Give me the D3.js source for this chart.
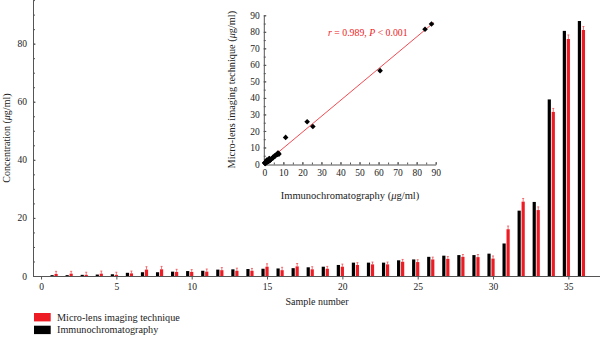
<!DOCTYPE html>
<html>
<head>
<meta charset="utf-8">
<script src="https://cdn.jsdelivr.net/npm/d3@7"></script>
<style>
  html, body { margin: 0; padding: 0; background: #fff; }
  svg { display: block; font-family: "Liberation Serif", "DejaVu Serif", serif; }
  .axis path, .axis line { stroke: #555; }
  .axis text { fill: #222; font-size: 9.5px; font-family: "Liberation Serif", serif; }
</style>
</head>
<body>
<div id="chart"></div>
<script>
// ------------------------------------------------------------------ DATA
const sampleNumbers = [1, 2, 3, 4, 5, 6, 7, 8, 9, 10, 11, 12, 13, 14, 15, 16, 17, 18,
  19, 20, 21, 22, 23, 24, 25, 26, 27, 28, 29, 30, 31, 32, 33, 34, 35, 36];

// Immunochromatography (black)
const immunoValues = [0.3, 0.3, 0.4, 0.5, 0.6, 1.1, 1.3, 1.3, 1.5, 1.7, 1.8, 2.2, 2.3, 2.4,
  2.5, 2.6, 2.7, 3.0, 3.2, 3.8, 4.6, 4.6, 4.6, 5.4, 5.7, 6.6, 7.0, 7.2, 7.2, 7.7,
  11.2, 22.5, 25.5, 60.8, 84.4, 87.8];

// Micro-lens imaging technique (red)
const microValues = [0.7, 0.8, 0.4, 0.8, 0.4, 0.9, 2.2, 2.3, 1.4, 1.4, 1.5, 2.0, 1.8, 1.8,
  3.2, 2.0, 3.3, 2.3, 2.5, 3.2, 3.8, 4.0, 4.0, 4.9, 4.8, 5.7, 5.9, 6.6, 6.5, 6.0,
  16.1, 25.6, 22.7, 56.5, 81.6, 84.7];

const microErrors = [0.9, 0.8, 0.9, 0.9, 0.9, 0.8, 1.0, 1.0, 0.9, 0.8, 0.9, 0.9, 0.9, 0.8,
  1.0, 1.0, 1.0, 0.9, 0.8, 0.9, 0.8, 0.8, 0.8, 0.8, 0.8, 0.8, 0.8, 0.8, 0.9, 0.9,
  1.1, 1.1, 1.1, 1.2, 1.4, 1.2];

const mainXTicks = [0, 5, 10, 15, 20, 25, 30, 35];
const mainYTicks = [0, 20, 40, 60, 80];
const insetTicks = [0, 10, 20, 30, 40, 50, 60, 70, 80, 90];
const seriesNames = ['Micro-lens imaging technique', 'Immunochromatography'];
const corrText = { r: '0.989', p: '0.001' };

const RED = '#ed1c24';
const BLACK = '#000';

// ------------------------------------------------------------------ SVG
const width = 600, height = 337;
const svg = d3.select('#chart').append('svg')
  .attr('width', width)
  .attr('height', height);

// ------------------------------------------------------------------ MAIN SCALES
const x = d3.scaleLinear().domain([-0.5, 37.1]).range([33.5, 600]);
const y = d3.scaleLinear().domain([0, 95]).range([276, 0.1]);

const rows = sampleNumbers.map((s, i) => ({
  s, immuno: immunoValues[i], micro: microValues[i], err: microErrors[i]
}));

// ------------------------------------------------------------------ MAIN AXES
svg.append('g')
  .attr('class', 'axis')
  .attr('transform', `translate(${x.range()[0] - 0.5},0)`)
  .call(d3.axisLeft(y).tickValues(d3.range(0, 96, 5)).tickSize(-2).tickSizeOuter(0).tickFormat(''));

svg.append('g')
  .attr('class', 'axis')
  .attr('transform', `translate(${x.range()[0] - 0.5},0)`)
  .call(d3.axisLeft(y).tickValues(mainYTicks).tickSize(-2.5).tickSizeOuter(0).tickPadding(6))
  .call(g => g.select('.domain').remove());

svg.append('g')
  .attr('class', 'axis')
  .attr('transform', `translate(0,${y(0)})`)
  .call(d3.axisBottom(x).tickValues(mainXTicks).tickSize(3.5).tickSizeOuter(0).tickPadding(4));

// ------------------------------------------------------------------ BARS
const barW = 3.2;
svg.append('g')
  .selectAll('rect')
  .data(rows)
  .join('rect')
  .attr('x', d => x(d.s) - 4 - barW / 2)
  .attr('y', d => y(d.immuno))
  .attr('width', barW)
  .attr('height', d => y(0) - y(d.immuno))
  .attr('fill', BLACK);

svg.append('g')
  .selectAll('rect')
  .data(rows)
  .join('rect')
  .attr('x', d => x(d.s) - barW / 2)
  .attr('y', d => y(d.micro))
  .attr('width', barW)
  .attr('height', d => y(0) - y(d.micro))
  .attr('fill', RED);

// error bars (red)
const err = svg.append('g')
  .attr('stroke', RED)
  .attr('stroke-width', 0.7)
  .attr('opacity', 0.85);
err.selectAll('line.v')
  .data(rows)
  .join('line')
  .attr('class', 'v')
  .attr('x1', d => x(d.s)).attr('x2', d => x(d.s))
  .attr('y1', d => y(d.micro)).attr('y2', d => y(d.micro + d.err));
err.selectAll('line.c')
  .data(rows)
  .join('line')
  .attr('class', 'c')
  .attr('x1', d => x(d.s) - 1).attr('x2', d => x(d.s) + 1)
  .attr('y1', d => y(d.micro + d.err)).attr('y2', d => y(d.micro + d.err));

// ------------------------------------------------------------------ MAIN TITLES
svg.append('text')
  .attr('transform', `translate(10,${y(47.5)}) rotate(-90)`)
  .attr('text-anchor', 'middle')
  .attr('font-size', 10)
  .attr('fill', '#222')
  .call(t => {
    t.append('tspan').text('Concentration (');
    t.append('tspan').attr('font-style', 'italic').text('\u03bc');
    t.append('tspan').text('g/ml)');
  });

svg.append('text')
  .attr('x', 317).attr('y', 305)
  .attr('text-anchor', 'middle')
  .attr('font-size', 10)
  .attr('fill', '#222')
  .text('Sample number');

// ------------------------------------------------------------------ LEGEND
const legend = svg.append('g').attr('transform', 'translate(34,313)');
[RED, BLACK].forEach((c, i) => {
  legend.append('rect')
    .attr('x', 0).attr('y', i * 12.7)
    .attr('width', 16.7).attr('height', 8.4)
    .attr('fill', c);
  legend.append('text')
    .attr('x', 23).attr('y', i * 12.7 + 7.6)
    .attr('font-size', 10.2)
    .attr('fill', '#222')
    .text(seriesNames[i]);
});

// ------------------------------------------------------------------ INSET SCATTER
const xi = d3.scaleLinear().domain([0, 90]).range([264.3, 435.7]);
const yi = d3.scaleLinear().domain([0, 90]).range([164, 15.3]);

const inset = svg.append('g');

inset.append('g')
  .attr('class', 'axis')
  .attr('transform', `translate(${xi(0) - 0.5},0)`)
  .call(d3.axisLeft(yi).tickValues(d3.range(0, 91, 5)).tickSize(-2).tickSizeOuter(0).tickFormat(''));
inset.append('g')
  .attr('class', 'axis')
  .attr('transform', `translate(${xi(0) - 0.5},0)`)
  .call(d3.axisLeft(yi).tickValues(insetTicks).tickSize(-2.5).tickSizeOuter(0).tickPadding(4))
  .call(g => g.select('.domain').remove());

inset.append('g')
  .attr('class', 'axis')
  .attr('transform', `translate(0,${yi(0) + 0.5})`)
  .call(d3.axisBottom(xi).tickValues(d3.range(0, 91, 5)).tickSize(-2).tickSizeOuter(0).tickFormat(''));
inset.append('g')
  .attr('class', 'axis')
  .attr('transform', `translate(0,${yi(0) + 0.5})`)
  .call(d3.axisBottom(xi).tickValues(insetTicks).tickSize(-2.5).tickSizeOuter(0).tickPadding(5))
  .call(g => g.select('.domain').remove());

// least-squares fit of micro-lens vs immunochromatography
const mx = d3.mean(immunoValues), my = d3.mean(microValues);
const slope = d3.sum(immunoValues, (v, i) => (v - mx) * (microValues[i] - my)) /
              d3.sum(immunoValues, v => (v - mx) * (v - mx));
const intercept = my - slope * mx;

inset.append('line')
  .attr('x1', xi(0)).attr('y1', yi(intercept))
  .attr('x2', xi(89)).attr('y2', yi(intercept + slope * 89))
  .attr('stroke', RED)
  .attr('stroke-width', 0.8);

const diamond = d3.symbol().type(d3.symbolDiamond2 || d3.symbolDiamond).size(20);
inset.append('g')
  .selectAll('path')
  .data(rows)
  .join('path')
  .attr('d', diamond)
  .attr('transform', d => `translate(${xi(d.immuno)},${yi(d.micro)})`)
  .attr('fill', BLACK);

inset.append('text')
  .attr('x', 328).attr('y', 36)
  .attr('font-size', 9.8)
  .attr('fill', RED)
  .call(t => {
    t.append('tspan').attr('font-style', 'italic').text('r');
    t.append('tspan').text(` = ${corrText.r}, `);
    t.append('tspan').attr('font-style', 'italic').text('P');
    t.append('tspan').text(` < ${corrText.p}`);
  });

inset.append('text')
  .attr('transform', `translate(235,${yi(45)}) rotate(-90)`)
  .attr('text-anchor', 'middle')
  .attr('font-size', 10.3)
  .attr('fill', '#222')
  .call(t => {
    t.append('tspan').text('Micro-lens imaging technique (');
    t.append('tspan').attr('font-style', 'italic').text('\u03bc');
    t.append('tspan').text('g/ml)');
  });

inset.append('text')
  .attr('x', xi(45)).attr('y', 199)
  .attr('text-anchor', 'middle')
  .attr('font-size', 10.5)
  .attr('fill', '#222')
  .call(t => {
    t.append('tspan').text('Immunochromatography (');
    t.append('tspan').attr('font-style', 'italic').text('\u03bc');
    t.append('tspan').text('g/ml)');
  });
</script>
</body>
</html>
